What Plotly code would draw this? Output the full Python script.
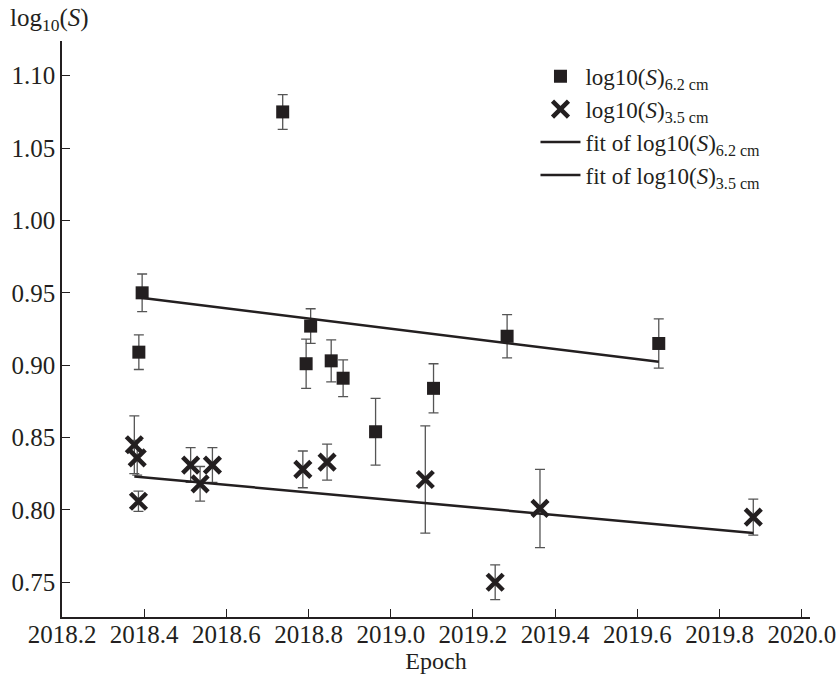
import plotly.graph_objects as go

# --- data ---
epoch_62 = [2018.737, 2018.395, 2018.387, 2018.805, 2018.794, 2018.855, 2018.884, 2018.963, 2019.104, 2019.283, 2019.652]
logS_62 = [1.075, 0.950, 0.909, 0.927, 0.901, 0.903, 0.891, 0.854, 0.884, 0.920, 0.915]
err_62 = [0.012, 0.013, 0.012, 0.012, 0.017, 0.0145, 0.0127, 0.023, 0.017, 0.015, 0.017]

epoch_35 = [2018.376, 2018.383, 2018.386, 2018.513, 2018.536, 2018.566, 2018.786, 2018.845, 2019.084, 2019.254, 2019.363, 2019.882]
logS_35 = [0.845, 0.836, 0.806, 0.831, 0.818, 0.831, 0.828, 0.833, 0.821, 0.750, 0.801, 0.795]
err_35 = [0.020, 0.012, 0.007, 0.012, 0.012, 0.012, 0.0127, 0.0124, 0.037, 0.012, 0.027, 0.0124]

# linear fits: value at reference epoch 2019.0 and slope per year
fit_ref_epoch = 2019.0
fit_62 = {"at_ref": 0.9252, "slope": -0.0351}
fit_35 = {"at_ref": 0.8069, "slope": -0.0260}

x_ticks = [2018.2, 2018.4, 2018.6, 2018.8, 2019.0, 2019.2, 2019.4, 2019.6, 2019.8, 2020.0]
y_ticks = [0.75, 0.80, 0.85, 0.90, 0.95, 1.00, 1.05, 1.10]

INK = "#231f20"
FONT = "Liberation Serif, Times New Roman, serif"


def fit_line(xs, fit):
    x0, x1 = min(xs), max(xs)
    return [x0, x1], [fit["at_ref"] + fit["slope"] * (x - fit_ref_epoch) for x in (x0, x1)]


fig = go.Figure()

fig.add_trace(go.Scatter(
    x=epoch_62, y=logS_62, mode="markers",
    name="log10(<i>S</i>)<sub>6.2 cm</sub>",
    marker=dict(symbol="square", size=13, color=INK),
    error_y=dict(type="data", array=err_62, visible=True, color="#555555", thickness=1.3, width=5),
))
fig.add_trace(go.Scatter(
    x=epoch_35, y=logS_35, mode="markers",
    name="log10(<i>S</i>)<sub>3.5 cm</sub>",
    marker=dict(symbol="x-thin-open", size=16, color=INK, line=dict(width=4.5, color=INK)),
    error_y=dict(type="data", array=err_35, visible=True, color="#555555", thickness=1.3, width=5),
))
fx, fy = fit_line(epoch_62, fit_62)
fig.add_trace(go.Scatter(x=fx, y=fy, mode="lines", name="fit of log10(<i>S</i>)<sub>6.2 cm</sub>",
                         line=dict(color=INK, width=2.5)))
fx, fy = fit_line(epoch_35, fit_35)
fig.add_trace(go.Scatter(x=fx, y=fy, mode="lines", name="fit of log10(<i>S</i>)<sub>3.5 cm</sub>",
                         line=dict(color=INK, width=2.5)))

axis_common = dict(
    showgrid=False, zeroline=False, showline=True, linecolor=INK, linewidth=1.5,
    ticks="inside", ticklen=8, tickwidth=1.3, tickcolor=INK, mirror=False,
    ticklabeloverflow="allow", automargin=False,
)

fig.update_layout(
    width=836, height=680,
    margin=dict(l=62, r=26, t=41, b=63, autoexpand=False),
    paper_bgcolor="white", plot_bgcolor="white",
    font=dict(family=FONT, color=INK),
    xaxis=dict(range=[2018.2, 2020.02], tickvals=x_ticks,
               ticktext=[f"{v:.1f}" for v in x_ticks],
               tickfont=dict(family=FONT, size=25, color=INK),
               ticklabelstandoff=-6,
               title=dict(text="Epoch", font=dict(family=FONT, size=24, color=INK), standoff=0),
               **axis_common),
    yaxis=dict(range=[0.726, 1.124], tickvals=y_ticks,
               ticktext=[f"{v:.2f}" for v in y_ticks],
               tickfont=dict(family=FONT, size=25, color=INK),
               **axis_common),
    legend=dict(x=0.633, y=0.976, xanchor="left", yanchor="top",
                font=dict(family=FONT, size=23, color=INK),
                bgcolor="rgba(0,0,0,0)", tracegroupgap=0, itemwidth=40),
    showlegend=True,
)

fig.add_annotation(
    text="log<sub>10</sub>(<i>S</i>)", xref="paper", yref="paper",
    x=-0.072, y=1.0, xanchor="left", yanchor="bottom", yshift=4, showarrow=False,
    font=dict(family=FONT, size=25, color=INK),
)

fig.write_html("out.html", config={"displayModeBar": False},
               post_script="document.body.style.margin='0';")
